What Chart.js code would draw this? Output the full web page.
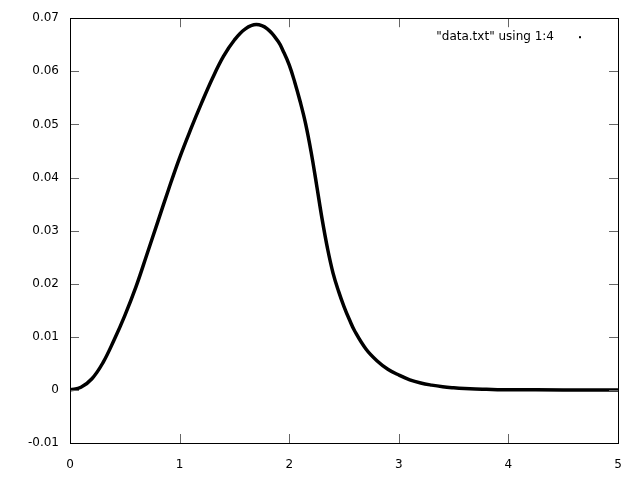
<!DOCTYPE html>
<html>
<head>
<meta charset="utf-8">
<script src="https://cdn.jsdelivr.net/npm/chart.js@4"></script>
<style>
  html, body { margin: 0; padding: 0; background: #fff; }
  #wrap { width: 640px; height: 480px; }
</style>
</head>
<body>
<div id="wrap"><canvas id="plot"></canvas></div>
<script>
// values (column 1 vs column 4)
const xs = [0, 0.1, 0.2, 0.3, 0.4, 0.5, 0.6, 0.7, 0.8, 0.9,
  1.0, 1.1, 1.2, 1.3, 1.4, 1.5, 1.6, 1.7, 1.8, 1.9,
  1.95, 2.0, 2.05, 2.1, 2.15, 2.2, 2.25, 2.3, 2.35, 2.4, 2.45, 2.5, 2.55, 2.6,
  2.7, 2.8, 2.9, 3.0, 3.1, 3.2, 3.3, 3.4, 3.5, 3.6, 3.7, 3.8, 3.9,
  4.0, 4.5, 5.0];
const ys = [0, 0.0005, 0.0021, 0.0051, 0.0093, 0.0140, 0.0193, 0.0254, 0.0316, 0.0378,
  0.0437, 0.0490, 0.0540, 0.0587, 0.0628, 0.0659, 0.0680, 0.0688, 0.0680, 0.0656,
  0.0636, 0.0612, 0.0580, 0.0543, 0.0501, 0.0448, 0.0386, 0.0322, 0.0266, 0.0220, 0.0186, 0.0157, 0.0132, 0.0110,
  0.0077, 0.0055, 0.0039, 0.0028, 0.0019, 0.0013, 0.0009, 0.0006, 0.0004, 0.00025, 0.00015, 0.0001, 0.00005,
  0.00003, 0, 0];
const xTicks = [0, 1, 2, 3, 4, 5];
const yTicks = [-0.01, 0, 0.01, 0.02, 0.03, 0.04, 0.05, 0.06, 0.07];
const keyLabel = '"data.txt" using 1:4';

const font = { family: "DejaVu Sans", size: 12 };

// gnuplot-like frame with inward ticks on all four sides, plus the key
const frame = {
  id: "frame",
  afterDraw(chart) {
    const ctx = chart.ctx;
    const a = chart.chartArea;
    const sx = chart.scales.x, sy = chart.scales.y;
    ctx.save();
    ctx.strokeStyle = "#666";
    ctx.lineWidth = 1;
    ctx.beginPath();
    sx.ticks.forEach((t) => {
      const p = Math.round(sx.getPixelForValue(t.value)) + 0.5;
      ctx.moveTo(p, a.bottom); ctx.lineTo(p, a.bottom - 9);
      ctx.moveTo(p, a.top); ctx.lineTo(p, a.top + 9);
    });
    sy.ticks.forEach((t) => {
      const p = Math.round(sy.getPixelForValue(t.value)) + 0.5;
      ctx.moveTo(a.left, p); ctx.lineTo(a.left + 9, p);
      ctx.moveTo(a.right, p); ctx.lineTo(a.right - 9, p);
    });
    ctx.stroke();
    ctx.strokeStyle = "#000";
    ctx.strokeRect(Math.round(a.left) + 0.5, Math.round(a.top) + 0.5,
      Math.round(a.right - a.left), Math.round(a.bottom - a.top));
    // key
    ctx.fillStyle = "#000";
    ctx.font = "12px 'DejaVu Sans'";
    ctx.textAlign = "right";
    ctx.textBaseline = "middle";
    ctx.fillText(keyLabel, a.right - 64, a.top + 19);
    ctx.fillRect(a.right - 39, a.top + 18, 2, 2);
    ctx.restore();
  },
};

new Chart(document.getElementById("plot"), {
  type: "line",
  data: {
    datasets: [
      {
        label: keyLabel,
        data: xs.map((x, i) => ({ x: x, y: ys[i] })),
        borderColor: "#000",
        backgroundColor: "#000",
        borderWidth: 3.5,
        pointRadius: 0,
        tension: 0.4,
        fill: false,
      },
    ],
  },
  options: {
    responsive: true,
    maintainAspectRatio: false,
    animation: false,
    layout: { padding: { top: 16, right: 22, left: 0, bottom: 0 } },
    plugins: { legend: { display: false }, tooltip: { enabled: false } },
    scales: {
      x: {
        type: "linear",
        min: 0,
        max: 5,
        afterBuildTicks: (s) => { s.ticks = xTicks.map((v) => ({ value: v })); },
        afterFit: (s) => { s.height = 37; },
        grid: { display: false, drawTicks: false },
        border: { display: false },
        ticks: { color: "#000", font: font, padding: 15, maxRotation: 0,
          callback: (v) => String(v) },
      },
      y: {
        min: -0.01,
        max: 0.07,
        afterBuildTicks: (s) => { s.ticks = yTicks.map((v) => ({ value: v })); },
        afterFit: (s) => { s.width = 70; },
        grid: { display: false, drawTicks: false },
        border: { display: false },
        ticks: { color: "#000", font: font, padding: 11,
          callback: (v) => String(Number(v.toFixed(2))) },
      },
    },
  },
  plugins: [frame],
});
</script>
</body>
</html>
